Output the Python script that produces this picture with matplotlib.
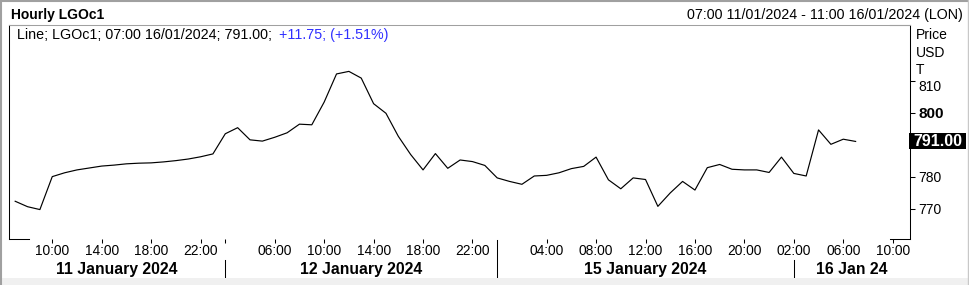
import numpy as np
import matplotlib.pyplot as plt
import matplotlib.transforms as mtransforms
from matplotlib.patches import Rectangle
from matplotlib.lines import Line2D

plt.rcParams['font.family'] = ['Liberation Sans', 'DejaVu Sans']

# hourly closes of LGOc1, trading hours only (slot 0 = 07:00 11/01/2024)
price_11jan = [772.3, 770.6, 769.7, 780.0, 781.2, 782.1, 782.7, 783.3, 783.6, 784.0,
               784.2, 784.3, 784.6, 785.0, 785.5, 786.2]
price_12jan = [787.1, 793.4, 795.3, 791.5, 791.1, 792.3, 793.7, 796.4, 796.2, 803.3,
               812.1, 812.9, 810.8, 802.8, 799.8, 792.6, 786.9, 782.1, 787.2, 782.6,
               785.2, 784.7]
price_15jan = [783.5, 779.6, 778.5, 777.6, 780.2, 780.4, 781.2, 782.5, 783.2, 786.1,
               779.0, 776.2, 779.6, 779.1, 770.7, 774.9, 778.5, 775.8, 782.8, 783.8,
               782.3, 782.1, 782.1, 781.3]
price_16jan = [786.1, 781.0, 780.2, 794.6, 790.1, 791.7, 791.0]
price = price_11jan + price_12jan + price_15jan + price_16jan

tick_slots = [3, 7, 11, 15, 21, 25, 29, 33, 37, 43, 47, 51, 55, 59, 63, 67, 71]
tick_labels = ['10:00', '14:00', '18:00', '22:00',
               '06:00', '10:00', '14:00', '18:00', '22:00',
               '04:00', '08:00', '12:00', '16:00', '20:00',
               '02:00', '06:00', '10:00']
day_labels = ['11 January 2024', '12 January 2024', '15 January 2024', '16 Jan 24']
day_starts = [17, 39, 63]          # slot where a new day begins
y_ticks = [770, 780, 790, 800, 810]

W, H = 969, 285
fig = plt.figure(figsize=(W / 100, H / 100), dpi=100)
ax = fig.add_axes([9 / W, 1 - 239 / H, (910 - 9) / W, (239 - 25) / H])

x = np.arange(len(price))
ax.plot(x, price, color='black', lw=0.85)
ax.set_xlim(-0.5, 72.4)
ax.set_ylim(760.5, 827.4)

# frame: full sides, grey top line, black corner stubs
for s in ['left', 'right']:
    ax.spines[s].set_linewidth(0.75)
ax.spines['bottom'].set_visible(False)
ax.spines['top'].set_color('#a0a0a0')
ax.spines['top'].set_linewidth(0.75)
stub = 20 / 901
for yy in [0, 1]:
    ax.add_line(Line2D([0, stub], [yy, yy], transform=ax.transAxes, color='black', lw=0.75, clip_on=False))
    ax.add_line(Line2D([1 - stub, 1], [yy, yy], transform=ax.transAxes, color='black', lw=0.75, clip_on=False))

# x axis
ax.set_xticks(tick_slots, tick_labels)
ax.set_xticks([day_starts[0]], minor=True)
ax.tick_params(axis='x', which='both', direction='out', length=3, width=0.75, pad=0.5,
               labelsize=9.9, colors='black')

trans = mtransforms.blended_transform_factory(ax.transData, ax.transAxes)
edges = [-0.5] + day_starts + [72.4]
for i, lab in enumerate(day_labels):
    mid = (edges[i] + edges[i + 1]) / 2
    ax.text(mid, -0.165, lab, transform=trans, ha='center', va='baseline',
            fontsize=11.3, fontweight='bold')
for d in day_starts:
    top = -0.005 if d == 39 else -0.098
    ax.axvline(d, ymin=-0.182, ymax=top, color='black', lw=0.75, clip_on=False)

# y axis on the right (790 sits under the last-price tag)
ax.yaxis.tick_right()
ax.set_yticks(y_ticks, ['770', '780', '', '800', ''])
ax.tick_params(axis='y', direction='out', length=3.6, width=0.75, pad=2.4, labelsize=10)
for lab in ax.get_yticklabels():
    if lab.get_text() == '800':
        lab.set_fontweight('bold')
        lab.set_fontsize(11)
ax.annotate('810', xy=(1, 810), xycoords=('axes fraction', 'data'),
            xytext=(6, -4.3), textcoords='offset points', ha='left', va='center', fontsize=10)

for txt, yb in [('Price', 39.3), ('USD', 56.7), ('T', 74)]:
    fig.text(916 / W, 1 - yb / H, txt, fontsize=10, va='baseline')

# last price tag
last = price[-1]
tr_y = mtransforms.blended_transform_factory(ax.transAxes, ax.transData)
ax.add_patch(Rectangle((900 / 901, last - 2.5), 57 / 901, 5.0, transform=tr_y,
                       facecolor='black', edgecolor='none', clip_on=False, zorder=5))
ax.text((937.5 - 9) / 901, last, f'{last:.2f}', transform=tr_y, ha='center', va='center',
        color='white', fontsize=11.5, fontweight='bold', zorder=6)

# header and legend
fig.text(10.7 / W, 1 - 19.3 / H, 'Hourly LGOc1', fontsize=10, fontweight='bold', va='baseline')
fig.text(963.3 / W, 1 - 19.3 / H, '07:00 11/01/2024 - 11:00 16/01/2024 (LON)',
         fontsize=10.3, ha='right', va='baseline')
fig.text(17.3 / W, 1 - 39 / H, 'Line; LGOc1; 07:00 16/01/2024; 791.00;',
         fontsize=10.3, va='baseline')
fig.text(279.3 / W, 1 - 39 / H, '+11.75; (+1.51%)', fontsize=10.3, va='baseline', color='#3030ff')

# window border and bottom strip
fig.add_artist(Rectangle((0, 0), 1, 7 / H, transform=fig.transFigure, facecolor='#f0f0f0',
                         edgecolor='none'))
fig.add_artist(Line2D([1 / W, 1 / W], [0, 1], transform=fig.transFigure, color='#a0a0a0', lw=1.5))
fig.add_artist(Line2D([0, 1], [1 - 1 / H, 1 - 1 / H], transform=fig.transFigure, color='#a0a0a0', lw=1.5))
fig.add_artist(Line2D([1 - 1 / W, 1 - 1 / W], [0, 1], transform=fig.transFigure, color='#c8c8c8', lw=1))

fig.savefig('out.png', dpi=100)
